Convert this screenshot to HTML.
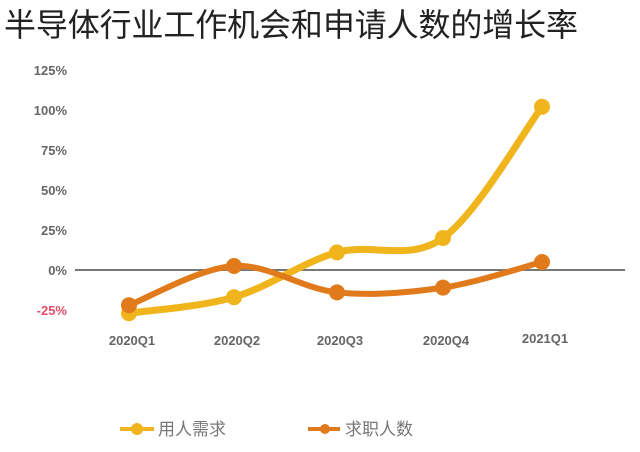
<!DOCTYPE html>
<html><head><meta charset="utf-8"><style>
body{margin:0;background:#fff;width:640px;height:447px;overflow:hidden}
svg text{font-family:"Liberation Sans","Noto Sans CJK SC",sans-serif}
</style></head><body>
<svg width="640" height="447">
<text x="4" y="36" font-size="32" textLength="574" lengthAdjust="spacing" fill="#222">半导体行业工作机会和申请人数的增长率</text>
<line x1="75" y1="270" x2="625" y2="270" stroke="#777" stroke-width="2"/>
<g id="yaxis"></g>
<g id="xaxis"></g>
<g id="series"></g>
<g>
<g>
<line x1="120" y1="429" x2="154" y2="429" stroke="#F0B51C" stroke-width="4"/>
<circle cx="137" cy="429" r="6" fill="#F0B51C"/>
<text x="158" y="435" font-size="17" fill="#777">用人需求</text></g>
<g>
<line x1="308" y1="429" x2="340" y2="429" stroke="#E07A1A" stroke-width="4"/>
<circle cx="325" cy="429" r="5" fill="#E07A1A"/>
<text x="345" y="435" font-size="17" fill="#777">求职人数</text></g>
</g>
</svg>
<script>
const categories=["2020Q1","2020Q2","2020Q3","2020Q4","2021Q1"];
const demand=[-27,-17,11,20,102];
const applicants=[-22,2.5,-14,-11,5];
const yTicks=[125,100,75,50,25,0,-25];
const xPos=[129,234,337,443,542];
const NS="http://www.w3.org/2000/svg";
function y(v){return 270-v*1.6}
function x(i){return xPos[i]}
const ya=document.getElementById('yaxis');
yTicks.forEach(t=>{const e=document.createElementNS(NS,'text');


e.setAttribute('x',67);e.setAttribute('y',y(t)+5);e.setAttribute('text-anchor','end');
e.setAttribute('font-size','13');e.setAttribute('font-weight','bold');e.setAttribute('fill',t<0?'#E0506A':'#666');
e.textContent=t+'%';ya.appendChild(e);});
const xa=document.getElementById('xaxis');
categories.forEach((c,i)=>{const e=document.createElementNS(NS,'text');


e.setAttribute('x',x(i)+3);e.setAttribute('y',i==4?343:345);e.setAttribute('text-anchor','middle');
e.setAttribute('font-size','13');e.setAttribute('font-weight','bold');e.setAttribute('fill','#666');
e.textContent=c;xa.appendChild(e);});
function path(vals){const p=vals.map((v,i)=>[x(i),y(v)]);let d='M'+p[0];
for(let i=0;i<p.length-1;i++){const p0=p[i-1]||p[i],p1=p[i],p2=p[i+1],p3=p[i+2]||p2;
const c1=[p1[0]+(p2[0]-p0[0])/6,p1[1]+(p2[1]-p0[1])/6],c2=[p2[0]-(p3[0]-p1[0])/6,p2[1]-(p3[1]-p1[1])/6];
d+=' C'+c1+' '+c2+' '+p2;}return d;}
const sg=document.getElementById('series');
[[demand,'#F0B51C','demand',7],[applicants,'#E07A1A','applicants',6]].forEach(([vals,col,nm,w])=>{
const pa=document.createElementNS(NS,'path');


pa.setAttribute('d',path(vals));pa.setAttribute('fill','none');pa.setAttribute('stroke',col);pa.setAttribute('stroke-width',w);pa.setAttribute('stroke-linecap','round');
sg.appendChild(pa);
vals.forEach((v,i)=>{const c=document.createElementNS(NS,'circle');


c.setAttribute('cx',x(i));c.setAttribute('cy',y(v));c.setAttribute('r','8');c.setAttribute('fill',col);sg.appendChild(c);});
});
</script>
</body></html>
